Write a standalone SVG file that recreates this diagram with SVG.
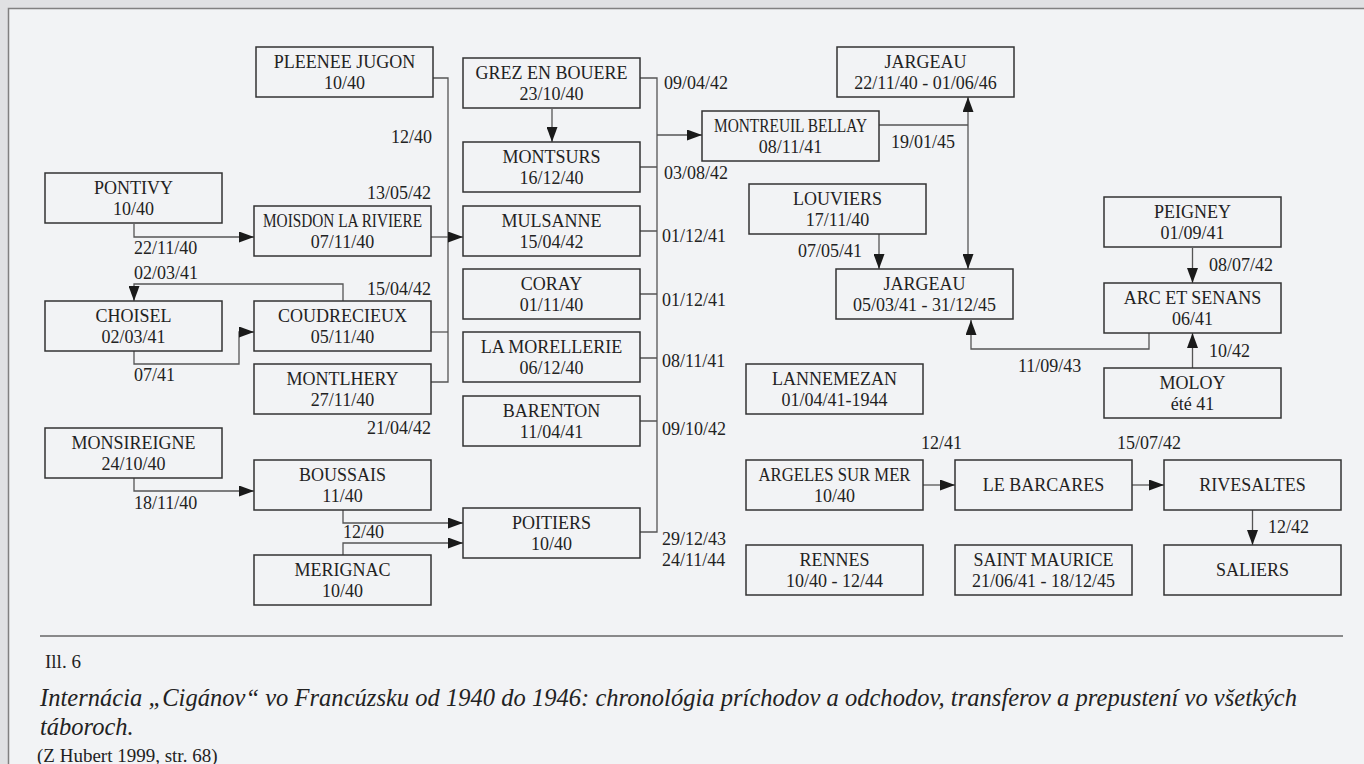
<svg xmlns="http://www.w3.org/2000/svg" width="1364" height="764" viewBox="0 0 1364 764">
<style>
.box{fill:none;stroke:#333;stroke-width:1.5}
.t{font-family:"Liberation Serif","Times New Roman",serif;font-size:18px;fill:#222;text-anchor:middle}
.l{font-family:"Liberation Serif","Times New Roman",serif;font-size:18px;fill:#222}
.e{text-anchor:end}
.ln{fill:none;stroke:#555;stroke-width:1.3}
.cap{font-family:"Liberation Serif","Times New Roman",serif;fill:#222}
</style>
<defs>
<marker id="ah" markerUnits="userSpaceOnUse" markerWidth="15" markerHeight="11" refX="15" refY="5.5" orient="auto-start-reverse">
<path d="M0,0 L15,5.5 L0,11 z" fill="#1a1a1a"/>
</marker>
</defs>
<rect x="0" y="0" width="1364" height="764" fill="#e0e1e3"/>
<rect x="8.5" y="8.5" width="1400" height="800" fill="#f2f3f5" stroke="#808080" stroke-width="1.5"/>

<g id="connectors">
<path class="ln" d="M433,78 H448 V382 H431"/>
<path class="ln" d="M431,332 H448"/>
<path class="ln" d="M431,237 H463" marker-end="url(#ah)"/>
<path class="ln" d="M134,224 V237 H254" marker-end="url(#ah)"/>
<path class="ln" d="M343,301 V284 H134 V301" marker-end="url(#ah)"/>
<path class="ln" d="M134,351 V364 H239 V332 H254" marker-end="url(#ah)"/>
<path class="ln" d="M134,478 V491 H254" marker-end="url(#ah)"/>
<path class="ln" d="M343,510 V523 H463" marker-end="url(#ah)"/>
<path class="ln" d="M343,555 V543 H463" marker-end="url(#ah)"/>
<path class="ln" d="M552,109 V142" marker-end="url(#ah)"/>
<path class="ln" d="M640,78 H657 V532 H640"/>
<path class="ln" d="M640,167 H657 M640,231 H657 M640,294 H657 M640,358 H657 M640,421 H657"/>
<path class="ln" d="M657,135 H702" marker-end="url(#ah)"/>
<path class="ln" d="M879,125 H968"/>
<path class="ln" d="M968,97 V269" marker-start="url(#ah)" marker-end="url(#ah)"/>
<path class="ln" d="M879,234 V269" marker-end="url(#ah)"/>
<path class="ln" d="M1149,333 V349 H971 V320" marker-end="url(#ah)"/>
<path class="ln" d="M1192.5,248 V283" marker-end="url(#ah)"/>
<path class="ln" d="M1192.5,368 V333" marker-end="url(#ah)"/>
<path class="ln" d="M923,485 H955" marker-end="url(#ah)"/>
<path class="ln" d="M1132,485 H1164" marker-end="url(#ah)"/>
<path class="ln" d="M1252.5,510 V545" marker-end="url(#ah)"/>
</g>

<g id="connector-labels">
<text class="l e" x="432" y="143">12/40</text>
<text class="l e" x="431" y="199">13/05/42</text>
<text class="l" x="134" y="254">22/11/40</text>
<text class="l" x="134" y="279">02/03/41</text>
<text class="l e" x="431" y="295">15/04/42</text>
<text class="l" x="134" y="381">07/41</text>
<text class="l e" x="431" y="434">21/04/42</text>
<text class="l" x="134" y="509">18/11/40</text>
<text class="l" x="343" y="538">12/40</text>
<text class="l" x="664" y="89">09/04/42</text>
<text class="l" x="664" y="179">03/08/42</text>
<text class="l" x="662" y="242">01/12/41</text>
<text class="l" x="662" y="306">01/12/41</text>
<text class="l" x="662" y="367">08/11/41</text>
<text class="l" x="662" y="435">09/10/42</text>
<text class="l" x="662" y="545">29/12/43</text>
<text class="l" x="662" y="566">24/11/44</text>
<text class="l" x="891" y="148">19/01/45</text>
<text class="l e" x="862" y="257">07/05/41</text>
<text class="l" x="1018" y="372">11/09/43</text>
<text class="l" x="1209" y="271">08/07/42</text>
<text class="l" x="1209" y="357">10/42</text>
<text class="l" x="921" y="449">12/41</text>
<text class="l" x="1117" y="449">15/07/42</text>
<text class="l" x="1268" y="533">12/42</text>
</g>

<g id="pleenee-jugon"><rect class="box" x="256" y="47" width="177" height="50"/><text class="t" x="344.5" y="68">PLEENEE JUGON</text><text class="t" x="344.5" y="88.5">10/40</text></g>
<g id="pontivy"><rect class="box" x="45" y="173" width="177" height="50"/><text class="t" x="133.5" y="194">PONTIVY</text><text class="t" x="133.5" y="214.5">10/40</text></g>
<g id="moisdon"><rect class="box" x="254" y="206" width="177" height="50"/><text class="t" x="342.5" y="227" textLength="159" lengthAdjust="spacingAndGlyphs">MOISDON LA RIVIERE</text><text class="t" x="342.5" y="247.5">07/11/40</text></g>
<g id="choisel"><rect class="box" x="45" y="301" width="177" height="50"/><text class="t" x="133.5" y="322">CHOISEL</text><text class="t" x="133.5" y="342.5">02/03/41</text></g>
<g id="coudrecieux"><rect class="box" x="254" y="301" width="177" height="50"/><text class="t" x="342.5" y="322">COUDRECIEUX</text><text class="t" x="342.5" y="342.5">05/11/40</text></g>
<g id="montlhery"><rect class="box" x="254" y="364" width="177" height="50"/><text class="t" x="342.5" y="385">MONTLHERY</text><text class="t" x="342.5" y="405.5">27/11/40</text></g>
<g id="monsireigne"><rect class="box" x="45" y="428" width="177" height="50"/><text class="t" x="133.5" y="449">MONSIREIGNE</text><text class="t" x="133.5" y="469.5">24/10/40</text></g>
<g id="boussais"><rect class="box" x="254" y="460" width="177" height="50"/><text class="t" x="342.5" y="481">BOUSSAIS</text><text class="t" x="342.5" y="501.5">11/40</text></g>
<g id="merignac"><rect class="box" x="254" y="555" width="177" height="50"/><text class="t" x="342.5" y="576">MERIGNAC</text><text class="t" x="342.5" y="596.5">10/40</text></g>
<g id="grez-en-bouere"><rect class="box" x="463" y="58" width="177" height="50"/><text class="t" x="551.5" y="79">GREZ EN BOUERE</text><text class="t" x="551.5" y="99.5">23/10/40</text></g>
<g id="montsurs"><rect class="box" x="463" y="142" width="177" height="50"/><text class="t" x="551.5" y="163">MONTSURS</text><text class="t" x="551.5" y="183.5">16/12/40</text></g>
<g id="mulsanne"><rect class="box" x="463" y="206" width="177" height="50"/><text class="t" x="551.5" y="227">MULSANNE</text><text class="t" x="551.5" y="247.5">15/04/42</text></g>
<g id="coray"><rect class="box" x="463" y="269" width="177" height="50"/><text class="t" x="551.5" y="290">CORAY</text><text class="t" x="551.5" y="310.5">01/11/40</text></g>
<g id="la-morellerie"><rect class="box" x="463" y="332" width="177" height="50"/><text class="t" x="551.5" y="353">LA MORELLERIE</text><text class="t" x="551.5" y="373.5">06/12/40</text></g>
<g id="barenton"><rect class="box" x="463" y="396" width="177" height="50"/><text class="t" x="551.5" y="417">BARENTON</text><text class="t" x="551.5" y="437.5">11/04/41</text></g>
<g id="poitiers"><rect class="box" x="463" y="508" width="177" height="50"/><text class="t" x="551.5" y="529">POITIERS</text><text class="t" x="551.5" y="549.5">10/40</text></g>
<g id="montreuil-bellay"><rect class="box" x="702" y="111" width="177" height="50"/><text class="t" x="790.5" y="132" textLength="153" lengthAdjust="spacingAndGlyphs">MONTREUIL BELLAY</text><text class="t" x="790.5" y="152.5">08/11/41</text></g>
<g id="louviers"><rect class="box" x="749" y="184" width="177" height="50"/><text class="t" x="837.5" y="205">LOUVIERS</text><text class="t" x="837.5" y="225.5">17/11/40</text></g>
<g id="jargeau-1"><rect class="box" x="837" y="47" width="177" height="50"/><text class="t" x="925.5" y="68">JARGEAU</text><text class="t" x="925.5" y="88.5">22/11/40 - 01/06/46</text></g>
<g id="jargeau-2"><rect class="box" x="836" y="269" width="177" height="50"/><text class="t" x="924.5" y="290">JARGEAU</text><text class="t" x="924.5" y="310.5">05/03/41 - 31/12/45</text></g>
<g id="lannemezan"><rect class="box" x="746" y="364" width="177" height="50"/><text class="t" x="834.5" y="385">LANNEMEZAN</text><text class="t" x="834.5" y="405.5">01/04/41-1944</text></g>
<g id="argeles"><rect class="box" x="746" y="460" width="177" height="50"/><text class="t" x="834.5" y="481" textLength="152" lengthAdjust="spacingAndGlyphs">ARGELES SUR MER</text><text class="t" x="834.5" y="501.5">10/40</text></g>
<g id="rennes"><rect class="box" x="746" y="545" width="177" height="50"/><text class="t" x="834.5" y="566">RENNES</text><text class="t" x="834.5" y="586.5">10/40 - 12/44</text></g>
<g id="le-barcares"><rect class="box" x="955" y="460" width="177" height="50"/><text class="t" x="1043.5" y="491">LE BARCARES</text></g>
<g id="saint-maurice"><rect class="box" x="955" y="545" width="177" height="50"/><text class="t" x="1043.5" y="566">SAINT MAURICE</text><text class="t" x="1043.5" y="586.5">21/06/41 - 18/12/45</text></g>
<g id="peigney"><rect class="box" x="1104" y="197" width="177" height="50"/><text class="t" x="1192.5" y="218">PEIGNEY</text><text class="t" x="1192.5" y="238.5">01/09/41</text></g>
<g id="arc-et-senans"><rect class="box" x="1104" y="283" width="177" height="50"/><text class="t" x="1192.5" y="304">ARC ET SENANS</text><text class="t" x="1192.5" y="324.5">06/41</text></g>
<g id="moloy"><rect class="box" x="1104" y="368" width="177" height="50"/><text class="t" x="1192.5" y="389">MOLOY</text><text class="t" x="1192.5" y="409.5">été 41</text></g>
<g id="rivesaltes"><rect class="box" x="1164" y="460" width="177" height="50"/><text class="t" x="1252.5" y="491">RIVESALTES</text></g>
<g id="saliers"><rect class="box" x="1164" y="545" width="177" height="50"/><text class="t" x="1252.5" y="576">SALIERS</text></g>

<g id="caption">
<line x1="40" y1="636" x2="1343" y2="636" stroke="#666" stroke-width="1.5"/>
<text class="cap" x="45" y="668" font-size="19">Ill. 6</text>
<text class="cap" x="40" y="706" font-size="24.5" font-style="italic" textLength="1257" lengthAdjust="spacing">Internácia „Cigánov“ vo Francúzsku od 1940 do 1946: chronológia príchodov a odchodov, transferov a prepustení vo všetkých</text>
<text class="cap" x="40" y="735" font-size="24.5" font-style="italic">táboroch.</text>
<text class="cap" x="37" y="762" font-size="19">(Z Hubert 1999, str. 68)</text>
</g>
</svg>
